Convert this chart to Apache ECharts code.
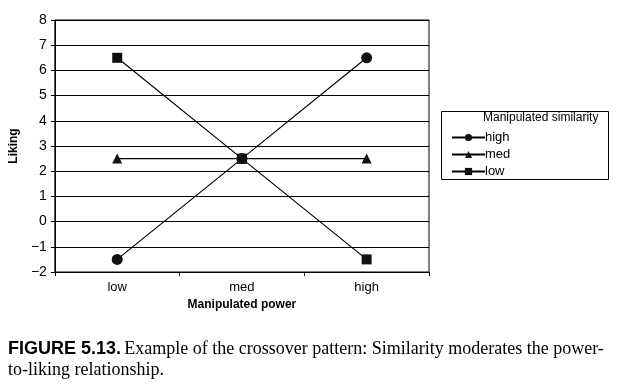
<!DOCTYPE html>
<html><head><meta charset="utf-8">
<script src="https://cdn.jsdelivr.net/npm/echarts@6/dist/echarts.min.js"></script>
<style>html,body{margin:0;padding:0;background:#fff}#c{width:622px;height:384px}</style>
</head><body><div id="c"></div>
<script>
const categories = ['low', 'med', 'high'];
const seriesNames = ['high', 'med', 'low'];
const highValues = [-1.5, 2.5, 6.5];
const medValues = [2.5, 2.5, 2.5];
const lowValues = [6.5, 2.5, -1.5];
const yTicks = [-2, -1, 0, 1, 2, 3, 4, 5, 6, 7, 8];
const legendTitle = 'Manipulated similarity';
const xTitle = 'Manipulated power';
const yTitle = 'Liking';

const chart = echarts.init(document.getElementById('c'));
const font = 'Liberation Sans, Arial, sans-serif';
function mk(name, data, symbol, size) {
  return {
    name, type: 'line', data, symbol, symbolSize: size,
    lineStyle: { color: '#000', width: 1.2 },
    itemStyle: { color: '#111' },
    animation: false
  };
}
chart.setOption({
  animation: false,
  grid: { left: 52, right: 193, top: 20, bottom: 112, show: true, borderColor: '#000', borderWidth: 1 },
  xAxis: {
    type: 'category', data: categories, boundaryGap: true,
    axisLine: { onZero: false, lineStyle: { color: '#000' } },
    axisTick: { show: true, length: 4, lineStyle: { color: '#000' } },
    axisLabel: { color: '#000', fontFamily: font, fontSize: 13, margin: 9 },
    name: xTitle, nameLocation: 'middle', nameGap: 25,
    nameTextStyle: { color: '#000', fontFamily: font, fontSize: 12, fontWeight: 'bold' }
  },
  yAxis: {
    type: 'value', min: yTicks[0], max: yTicks[yTicks.length - 1], interval: 1,
    axisLine: { show: true, lineStyle: { color: '#000' } },
    axisTick: { show: true, length: 4, lineStyle: { color: '#000' } },
    axisLabel: { color: '#000', fontFamily: font, fontSize: 14, margin: 8,
      formatter: v => v < 0 ? '\u2212' + Math.abs(v) : String(v) },
    splitLine: { show: true, lineStyle: { color: '#000', width: 1 } },
    name: yTitle, nameLocation: 'middle', nameGap: 31, nameRotate: 90,
    nameTextStyle: { color: '#000', fontFamily: font, fontSize: 12, fontWeight: 'bold' }
  },
  legend: {
    data: seriesNames, orient: 'vertical', left: 446, top: 126,
    itemWidth: 33, itemHeight: 9, itemGap: 4,
    textStyle: { color: '#000', fontFamily: font, fontSize: 13, padding: [0, 0, 0, -5] }
  },
  graphic: [
    { type: 'rect', shape: { x: 441.5, y: 111.5, width: 167, height: 68 },
      style: { fill: 'none', stroke: '#000', lineWidth: 1 } },
    { type: 'text', x: 483, y: 112,
      style: { text: legendTitle, fill: '#000', font: '12px ' + font } },
    { type: 'text', x: 8, y: 339,
      style: {
        text: '{b|FIGURE 5.13.} {s|Example of the crossover pattern: Similarity moderates the power-}\n{s|to-liking relationship.}',
        rich: {
          b: { fontFamily: font, fontWeight: 'bold', fontSize: 18, fill: '#000', lineHeight: 21 },
          s: { fontFamily: 'Liberation Serif, serif', fontSize: 18, fill: '#000', lineHeight: 21 }
        }
      } }
  ],
  series: [
    mk(seriesNames[0], highValues, 'circle', 11),
    mk(seriesNames[1], medValues, 'triangle', 10),
    mk(seriesNames[2], lowValues, 'rect', 10)
  ]
});
</script></body></html>
